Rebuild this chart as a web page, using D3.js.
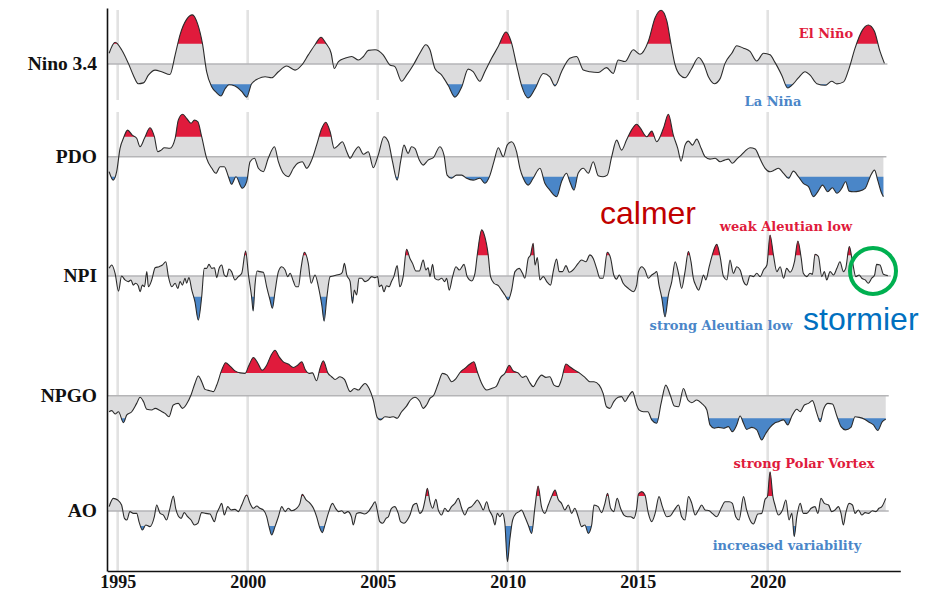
<!DOCTYPE html>
<html>
<head>
<meta charset="utf-8">
<script src="https://cdn.jsdelivr.net/npm/d3@7"></script>
<style>
  body { margin: 0; background: #fff; }
  svg { display: block; }
</style>
</head>
<body>
<svg id="chart" width="944" height="593"></svg>
<script>
(function () {

  'use strict';

  // Tick years on the bottom axis.
  const tickYears = [1995, 2000, 2005, 2010, 2015, 2020];

  // Series, [decimal year, index value]. Values are in units of the
  // highlight threshold (|v| > 1 gets the red / blue fill).
  const ninoData = [
    [1994.67, 0.53], [1994.90, 1.07], [1995.15, 0.70], [1995.41, 0.03], [1995.60, -0.55], [1995.79, -0.97],
    [1995.99, -0.93], [1996.18, -0.55], [1996.44, -0.30], [1996.69, -0.38], [1997.01, -0.52], [1997.21, 0.45],
    [1997.40, 1.45], [1997.65, 2.20], [1997.87, 2.42], [1998.08, 1.95], [1998.26, 1.00], [1998.42, -0.38],
    [1998.62, -1.13], [1998.81, -1.42], [1998.97, -1.58], [1999.13, -1.22], [1999.28, -1.02], [1999.51, -1.08],
    [1999.77, -1.35], [1999.96, -1.63], [2000.15, -0.97], [2000.41, -0.72], [2000.67, -0.63], [2000.92, -0.68],
    [2001.18, -0.38], [2001.50, -0.10], [2001.82, -0.30], [2002.08, -0.05], [2002.33, 0.45], [2002.59, 0.95],
    [2002.82, 1.32], [2003.00, 1.03], [2003.21, 0.53], [2003.33, -0.22], [2003.49, 0.12], [2003.74, 0.28],
    [2004.00, 0.37], [2004.26, 0.20], [2004.45, 0.37], [2004.64, 0.67], [2004.90, 0.70], [2005.21, 0.45],
    [2005.47, -0.05], [2005.66, -0.13], [2005.92, -0.85], [2006.11, -0.55], [2006.37, -0.05], [2006.62, 0.53],
    [2006.85, 0.95], [2007.01, 0.70], [2007.20, -0.22], [2007.46, -0.55], [2007.71, -1.05], [2007.97, -1.63],
    [2008.23, -1.13], [2008.48, -0.25], [2008.67, -0.38], [2008.93, -0.85], [2009.12, -0.38], [2009.38, 0.28],
    [2009.64, 0.87], [2009.93, 1.58], [2010.15, 1.03], [2010.34, -0.05], [2010.53, -1.05], [2010.79, -1.67],
    [2011.05, -1.22], [2011.37, -0.47], [2011.62, -0.63], [2011.82, -1.08], [2012.07, -0.38], [2012.39, 0.28],
    [2012.65, 0.37], [2012.91, -0.30], [2013.16, -0.38], [2013.48, -0.42], [2013.80, -0.18], [2014.06, -0.47],
    [2014.25, 0.20], [2014.51, 0.12], [2014.83, 0.70], [2015.09, 0.48], [2015.41, 1.12], [2015.67, 2.28],
    [2015.90, 2.65], [2016.12, 2.12], [2016.28, 0.98], [2016.44, -0.05], [2016.63, -0.55], [2016.82, -0.68],
    [2017.08, -0.22], [2017.34, 0.32], [2017.53, 0.03], [2017.72, -0.63], [2017.95, -0.97], [2018.17, -0.72],
    [2018.36, 0.03], [2018.62, 0.53], [2018.81, 0.90], [2019.07, 0.78], [2019.32, 0.62], [2019.58, 0.15],
    [2019.84, 0.53], [2020.09, 0.45], [2020.28, 0.08], [2020.54, -0.55], [2020.77, -1.18], [2020.99, -0.97],
    [2021.18, -0.68], [2021.44, -0.38], [2021.63, -0.55], [2021.89, -0.97], [2022.21, -1.05], [2022.46, -0.85],
    [2022.66, -0.98], [2022.92, -0.88], [2023.11, -0.30], [2023.36, 0.78], [2023.62, 1.62], [2023.87, 1.92],
    [2024.10, 1.62], [2024.32, 0.62], [2024.49, 0.03]
  ];

  const pdoData = [
    [1994.67, -0.75], [1994.83, -1.17], [1994.96, -0.75], [1995.09, 0.42], [1995.22, 0.92], [1995.38, 1.33],
    [1995.56, 1.08], [1995.73, 0.92], [1995.86, 0.50], [1996.03, 0.92], [1996.24, 1.45], [1996.41, 1.00],
    [1996.54, 0.25], [1996.67, 0.33], [1996.79, 0.45], [1997.01, 0.42], [1997.21, 0.92], [1997.33, 1.83],
    [1997.50, 2.12], [1997.65, 1.92], [1997.82, 1.67], [1997.95, 1.83], [1998.08, 1.75], [1998.23, 1.00],
    [1998.42, -0.08], [1998.62, -0.58], [1998.78, -0.83], [1998.94, -0.50], [1999.10, -0.50], [1999.26, -1.00],
    [1999.38, -1.38], [1999.55, -1.00], [1999.79, -1.58], [1999.96, -1.25], [2000.09, -0.25], [2000.26, -0.08],
    [2000.41, -0.58], [2000.60, -0.75], [2000.79, -0.08], [2001.03, 0.50], [2001.18, -0.25], [2001.37, -0.83],
    [2001.56, -1.00], [2001.76, -0.58], [2001.92, -0.33], [2002.10, -0.25], [2002.27, -0.58], [2002.46, -0.17],
    [2002.65, 0.58], [2002.85, 1.42], [2003.00, 1.72], [2003.17, 1.25], [2003.33, 0.42], [2003.49, 0.58],
    [2003.64, 0.75], [2003.81, 0.25], [2003.94, -0.08], [2004.10, 0.25], [2004.26, 0.50], [2004.45, 0.12],
    [2004.64, 0.25], [2004.83, -0.55], [2005.02, 0.08], [2005.24, 1.00], [2005.41, 0.75], [2005.57, -0.25],
    [2005.75, -1.17], [2005.88, -0.25], [2006.01, 0.58], [2006.17, 0.17], [2006.30, 0.50], [2006.43, 0.42],
    [2006.60, -0.17], [2006.75, -0.42], [2006.94, -0.17], [2007.14, -0.05], [2007.39, 0.50], [2007.55, 0.08],
    [2007.67, -0.92], [2007.84, -1.08], [2008.03, -0.92], [2008.23, -0.92], [2008.42, -1.08], [2008.67, -1.17],
    [2008.93, -1.08], [2009.12, -1.33], [2009.32, -0.92], [2009.47, -0.25], [2009.64, 0.45], [2009.83, 0.00],
    [2009.98, 0.58], [2010.15, 0.75], [2010.34, 0.25], [2010.47, -0.58], [2010.60, -1.08], [2010.79, -1.42],
    [2010.98, -1.08], [2011.24, -0.58], [2011.43, -1.33], [2011.62, -1.67], [2011.88, -2.00], [2012.07, -1.25],
    [2012.26, -0.83], [2012.39, -1.25], [2012.55, -1.67], [2012.71, -0.83], [2012.91, -0.58], [2013.10, -0.83],
    [2013.29, -0.25], [2013.48, -0.95], [2013.67, -1.00], [2013.83, -0.92], [2014.00, 0.00], [2014.19, 0.83],
    [2014.38, 0.33], [2014.57, 0.83], [2014.76, 1.33], [2014.96, 1.62], [2015.09, 1.45], [2015.35, 1.00],
    [2015.54, 1.28], [2015.73, 0.75], [2015.99, 1.42], [2016.18, 2.12], [2016.37, 1.08], [2016.54, 0.42],
    [2016.67, -0.22], [2016.82, 0.58], [2016.95, 0.78], [2017.11, 0.58], [2017.27, 0.88], [2017.44, 0.42],
    [2017.59, 0.00], [2017.78, -0.12], [2017.98, -0.08], [2018.17, -0.25], [2018.34, -0.17], [2018.49, -0.12],
    [2018.64, -0.33], [2018.81, -0.12], [2018.98, 0.08], [2019.13, 0.28], [2019.32, 0.45], [2019.52, 0.38],
    [2019.71, -0.12], [2019.90, -0.58], [2020.09, -0.75], [2020.26, -0.67], [2020.41, -0.58], [2020.61, -0.83],
    [2020.80, -1.08], [2020.99, -0.72], [2021.18, -1.00], [2021.37, -1.33], [2021.57, -1.50], [2021.76, -2.00],
    [2021.93, -1.75], [2022.11, -1.42], [2022.31, -1.75], [2022.49, -1.55], [2022.66, -1.83], [2022.85, -1.58],
    [2023.00, -1.25], [2023.13, -1.72], [2023.30, -1.75], [2023.52, -1.72], [2023.75, -1.58], [2023.94, -1.00],
    [2024.11, -0.67], [2024.23, -1.17], [2024.36, -1.75], [2024.45, -2.00]
  ];

  const npiData = [
    [1994.67, 0.37], [1994.77, 0.53], [1994.90, 0.13], [1995.03, -0.73], [1995.15, 0.00], [1995.28, -0.19],
    [1995.41, -0.27], [1995.51, -0.19], [1995.60, -0.44], [1995.69, -0.35], [1995.79, -0.47], [1995.86, -0.76],
    [1995.95, -0.44], [1996.03, -0.52], [1996.12, 0.21], [1996.18, -0.52], [1996.31, -0.19], [1996.44, 0.40],
    [1996.59, 0.45], [1996.72, 0.53], [1996.85, 0.69], [1996.95, -0.03], [1997.08, -0.52], [1997.21, -0.35],
    [1997.31, -0.60], [1997.40, -0.27], [1997.49, -0.44], [1997.59, -0.11], [1997.65, -0.35], [1997.74, -0.08],
    [1997.85, -0.68], [1997.97, -1.24], [1998.10, -2.13], [1998.23, -1.00], [1998.33, 0.37], [1998.42, 0.37],
    [1998.51, 0.56], [1998.62, 0.37], [1998.72, 0.40], [1998.81, -0.08], [1998.90, 0.37], [1999.00, 0.53],
    [1999.10, 0.05], [1999.19, -0.03], [1999.28, 0.34], [1999.38, 0.21], [1999.51, -0.19], [1999.64, -0.03],
    [1999.77, 0.13], [1999.92, 1.21], [2000.03, 0.05], [2000.15, -1.00], [2000.21, -1.69], [2000.28, -0.44],
    [2000.36, 0.24], [2000.47, 0.21], [2000.60, 0.18], [2000.73, -0.52], [2000.86, -1.16], [2000.95, -1.56],
    [2001.05, -0.76], [2001.18, 0.21], [2001.31, 0.45], [2001.44, 0.29], [2001.54, -0.03], [2001.63, 0.13],
    [2001.76, -0.27], [2001.85, -0.52], [2001.95, -0.52], [2002.05, 0.37], [2002.18, 1.15], [2002.33, 0.61],
    [2002.44, -0.35], [2002.59, 0.05], [2002.72, -0.52], [2002.85, -1.40], [2002.94, -2.18], [2003.04, -1.08],
    [2003.17, -0.03], [2003.29, 0.00], [2003.42, 0.05], [2003.55, 0.08], [2003.64, 0.18], [2003.72, 0.61],
    [2003.81, 0.05], [2003.94, -0.27], [2004.03, -1.32], [2004.10, -0.68], [2004.19, -0.92], [2004.28, -0.11],
    [2004.38, -0.11], [2004.51, -0.27], [2004.64, -0.19], [2004.77, -0.03], [2004.90, -0.08], [2005.00, -0.03],
    [2005.06, -0.52], [2005.15, -0.44], [2005.24, -0.76], [2005.34, -0.47], [2005.44, -0.52], [2005.53, -0.27],
    [2005.62, -0.03], [2005.75, 0.50], [2005.85, -0.52], [2005.98, -0.03], [2006.11, 1.29], [2006.24, 0.85],
    [2006.34, 0.61], [2006.47, 0.24], [2006.60, 0.24], [2006.75, 0.77], [2006.85, 0.29], [2006.94, 0.40],
    [2007.01, -0.03], [2007.11, 0.56], [2007.20, -0.11], [2007.33, -0.19], [2007.46, -0.11], [2007.58, -0.27],
    [2007.65, -0.11], [2007.75, -0.68], [2007.88, -0.03], [2008.01, 0.45], [2008.14, 0.29], [2008.32, 0.56],
    [2008.44, -0.03], [2008.61, -0.24], [2008.74, 0.13], [2008.83, 1.02], [2009.00, 2.23], [2009.12, 1.90],
    [2009.25, 1.02], [2009.34, -0.03], [2009.47, -0.35], [2009.64, -0.47], [2009.76, -0.68], [2009.89, -0.92],
    [2010.02, -1.16], [2010.15, -0.68], [2010.28, 0.21], [2010.44, 0.37], [2010.57, 0.13], [2010.66, -0.11],
    [2010.79, 0.85], [2010.88, 1.02], [2010.98, 1.58], [2011.05, 0.53], [2011.14, 0.89], [2011.24, -0.19],
    [2011.37, -0.03], [2011.50, -0.27], [2011.65, -0.44], [2011.75, 0.21], [2011.88, 0.82], [2011.98, 0.21],
    [2012.11, 0.21], [2012.24, 0.50], [2012.37, 0.18], [2012.55, 0.34], [2012.71, 0.61], [2012.84, 0.77],
    [2013.01, 0.69], [2013.16, 1.02], [2013.29, 0.85], [2013.42, 0.37], [2013.55, -0.11], [2013.67, -0.11],
    [2013.83, 1.15], [2013.96, 0.85], [2014.08, 0.05], [2014.19, -0.15], [2014.29, 0.05], [2014.44, -0.35],
    [2014.64, -0.60], [2014.83, -0.76], [2014.96, -0.44], [2015.03, 0.21], [2015.16, 0.45], [2015.28, 0.29],
    [2015.41, -0.11], [2015.54, 0.05], [2015.64, 0.13], [2015.73, 0.21], [2015.82, -0.44], [2015.93, -1.08],
    [2016.05, -1.97], [2016.18, -0.92], [2016.31, -0.27], [2016.44, 0.69], [2016.57, 0.13], [2016.69, -0.60],
    [2016.82, 0.21], [2016.95, 1.18], [2017.05, 0.69], [2017.14, -0.11], [2017.23, -0.44], [2017.34, -0.68],
    [2017.44, -0.35], [2017.53, 0.05], [2017.62, -0.19], [2017.75, 0.45], [2017.87, 1.02], [2018.04, 1.53],
    [2018.17, 0.94], [2018.30, -0.03], [2018.43, -0.19], [2018.55, 0.77], [2018.68, 0.13], [2018.81, 0.45],
    [2018.94, 0.29], [2019.07, -0.27], [2019.19, -0.44], [2019.32, 0.02], [2019.45, -0.03], [2019.58, 0.13],
    [2019.71, -0.03], [2019.84, 0.29], [2019.97, 0.53], [2020.09, 1.98], [2020.22, 1.02], [2020.35, 0.21],
    [2020.48, 0.45], [2020.61, -0.11], [2020.73, 0.37], [2020.86, 0.18], [2021.03, 0.69], [2021.16, 1.69],
    [2021.29, 0.85], [2021.37, 0.13], [2021.50, -0.03], [2021.63, 0.13], [2021.72, 0.08], [2021.82, 1.05],
    [2021.95, 0.94], [2022.08, -0.03], [2022.18, 0.21], [2022.27, -0.19], [2022.40, 0.21], [2022.53, 0.05],
    [2022.66, 0.37], [2022.78, 0.69], [2022.91, 0.21], [2023.00, 0.37], [2023.14, 1.42], [2023.26, 0.69],
    [2023.39, -0.03], [2023.52, 0.05], [2023.62, -0.11], [2023.75, -0.19], [2023.87, -0.35], [2024.00, -0.11],
    [2024.11, 0.05], [2024.19, 0.56], [2024.32, 0.53], [2024.45, 0.08], [2024.62, 0.02]
  ];

  const npgoData = [
    [1994.67, -0.71], [1994.77, -0.66], [1994.90, -0.81], [1995.03, -0.71], [1995.22, -1.19], [1995.35, -0.85],
    [1995.54, -0.71], [1995.73, -0.34], [1995.86, -0.07], [1995.99, -0.26], [1996.12, -0.60], [1996.31, -0.63],
    [1996.44, -0.56], [1996.63, -0.66], [1996.82, -0.78], [1996.97, -0.93], [1997.14, -0.41], [1997.33, -0.34],
    [1997.49, -0.56], [1997.65, -0.37], [1997.82, 0.03], [1997.97, 0.54], [1998.10, 0.87], [1998.23, 0.62],
    [1998.36, 0.28], [1998.55, 0.22], [1998.68, 0.18], [1998.81, 0.47], [1999.00, 1.13], [1999.15, 1.46],
    [1999.32, 1.31], [1999.51, 1.10], [1999.71, 1.01], [1999.90, 0.99], [2000.05, 1.35], [2000.22, 1.69],
    [2000.38, 1.46], [2000.56, 1.13], [2000.73, 1.35], [2000.90, 1.79], [2001.05, 2.01], [2001.21, 1.72],
    [2001.37, 1.50], [2001.56, 1.40], [2001.76, 1.25], [2001.92, 1.35], [2002.08, 1.50], [2002.21, 1.16],
    [2002.36, 0.99], [2002.49, 1.01], [2002.65, 0.66], [2002.78, 1.21], [2002.91, 1.54], [2003.08, 1.01],
    [2003.23, 0.84], [2003.36, 0.72], [2003.55, 0.84], [2003.72, 0.72], [2003.94, 0.18], [2004.10, 0.32],
    [2004.26, 0.25], [2004.38, 0.40], [2004.51, 0.54], [2004.67, 0.32], [2004.83, -0.19], [2004.98, -0.96],
    [2005.11, -1.07], [2005.28, -0.93], [2005.47, -0.96], [2005.60, -0.93], [2005.75, -1.00], [2005.92, -0.71],
    [2006.11, -0.46], [2006.26, -0.19], [2006.43, -0.07], [2006.62, -0.26], [2006.75, -0.56], [2006.88, -0.41],
    [2007.01, -0.12], [2007.16, 0.03], [2007.33, 0.54], [2007.49, 0.99], [2007.67, 0.91], [2007.84, 0.62],
    [2008.01, 0.76], [2008.19, 1.06], [2008.35, 1.21], [2008.55, 1.40], [2008.70, 1.50], [2008.83, 1.06],
    [2009.00, 0.54], [2009.19, 0.25], [2009.38, 0.32], [2009.55, 0.40], [2009.73, 0.81], [2009.89, 0.99],
    [2010.06, 1.35], [2010.21, 1.10], [2010.40, 1.01], [2010.57, 0.81], [2010.70, 0.87], [2010.83, 0.62],
    [2010.98, 0.40], [2011.14, 0.69], [2011.30, 0.91], [2011.47, 0.81], [2011.62, 0.84], [2011.78, 0.47],
    [2011.94, 0.40], [2012.07, 0.72], [2012.24, 1.40], [2012.39, 1.28], [2012.58, 1.13], [2012.78, 0.99],
    [2012.97, 0.81], [2013.16, 0.62], [2013.32, 0.62], [2013.52, 0.47], [2013.67, 0.10], [2013.80, -0.49],
    [2013.93, -0.56], [2014.08, -0.26], [2014.25, -0.07], [2014.38, -0.04], [2014.51, -0.26], [2014.64, -0.04],
    [2014.80, 0.18], [2014.96, -0.41], [2015.05, -0.63], [2015.22, -0.71], [2015.39, -0.71], [2015.54, -1.07],
    [2015.73, -1.22], [2015.90, -0.34], [2016.08, 0.47], [2016.25, 0.03], [2016.41, -0.46], [2016.57, -0.49],
    [2016.76, 0.32], [2016.93, -0.19], [2017.08, -0.31], [2017.27, -0.19], [2017.46, -0.34], [2017.66, -0.63],
    [2017.78, -1.29], [2017.95, -1.44], [2018.10, -1.40], [2018.30, -1.44], [2018.49, -1.37], [2018.64, -1.59],
    [2018.81, -1.29], [2018.94, -0.90], [2019.07, -1.22], [2019.19, -1.49], [2019.39, -1.40], [2019.58, -1.51],
    [2019.77, -1.96], [2019.93, -1.66], [2020.09, -1.40], [2020.26, -1.22], [2020.41, -1.15], [2020.61, -1.07],
    [2020.77, -1.29], [2020.93, -0.90], [2021.12, -0.60], [2021.25, -0.71], [2021.41, -0.41], [2021.57, -0.34],
    [2021.72, -0.22], [2021.89, -0.78], [2022.02, -1.15], [2022.14, -0.63], [2022.31, -0.34], [2022.49, -0.37],
    [2022.66, -0.90], [2022.82, -1.37], [2022.99, -1.51], [2023.20, -1.40], [2023.36, -0.93], [2023.52, -0.96],
    [2023.72, -1.04], [2023.87, -1.15], [2024.07, -1.29], [2024.23, -1.54], [2024.41, -1.15], [2024.54, -1.04]
  ];

  const aoData = [
    [1994.67, 0.29], [1994.83, 0.84], [1995.00, 0.73], [1995.15, 0.40], [1995.26, -0.49], [1995.35, -0.60],
    [1995.47, -0.04], [1995.60, -0.16], [1995.73, -0.16], [1995.83, -0.78], [1995.95, -1.27], [1996.08, -0.93],
    [1996.24, -1.04], [1996.41, -0.38], [1996.50, 0.40], [1996.63, -0.16], [1996.76, -0.27], [1996.88, -0.60],
    [1997.01, 0.18], [1997.14, 1.00], [1997.23, 0.18], [1997.33, -0.33], [1997.44, -0.49], [1997.56, -0.11],
    [1997.69, -0.38], [1997.82, -0.60], [1997.95, -0.93], [1998.08, -0.82], [1998.23, -0.11], [1998.38, -0.16],
    [1998.55, -0.20], [1998.72, -0.71], [1998.81, -0.16], [1998.90, 0.18], [1999.00, 0.51], [1999.10, -0.27],
    [1999.23, 0.29], [1999.36, 0.07], [1999.51, 0.11], [1999.64, -0.04], [1999.77, 0.40], [1999.96, 1.07],
    [2000.09, 0.51], [2000.22, 0.18], [2000.35, 0.33], [2000.47, 0.18], [2000.60, 0.07], [2000.73, -0.38],
    [2000.82, -1.04], [2000.92, -1.60], [2001.05, -1.04], [2001.18, -0.38], [2001.31, 0.29], [2001.44, -0.04],
    [2001.56, 0.18], [2001.69, 0.02], [2001.88, 0.18], [2002.01, 0.51], [2002.10, 1.11], [2002.23, 0.78],
    [2002.40, 0.51], [2002.53, 0.18], [2002.65, -0.38], [2002.78, -1.16], [2002.87, -1.44], [2002.97, -0.93],
    [2003.10, -0.16], [2003.26, 0.51], [2003.38, 0.18], [2003.49, -0.04], [2003.62, 0.02], [2003.72, -0.16],
    [2003.85, -0.04], [2003.99, -0.38], [2004.06, -0.93], [2004.19, -0.16], [2004.32, -0.11], [2004.49, -0.20],
    [2004.64, -0.04], [2004.77, 0.29], [2004.90, 0.62], [2004.98, 0.07], [2005.08, -0.71], [2005.19, -0.82],
    [2005.32, -0.49], [2005.41, -0.38], [2005.53, 0.18], [2005.66, 0.29], [2005.79, -0.16], [2005.88, -0.71],
    [2006.01, -0.82], [2006.14, -0.60], [2006.24, -0.27], [2006.37, 0.40], [2006.49, 0.51], [2006.62, -0.16],
    [2006.73, 0.07], [2006.82, 0.73], [2006.91, 1.51], [2007.01, 0.62], [2007.11, 0.18], [2007.24, 0.78],
    [2007.33, 0.07], [2007.46, -0.27], [2007.58, 0.18], [2007.71, -0.04], [2007.84, 0.29], [2007.97, 0.51],
    [2008.10, 0.84], [2008.23, 0.18], [2008.35, -0.27], [2008.48, 0.18], [2008.61, 0.29], [2008.74, 0.56],
    [2008.83, 0.73], [2008.96, 0.40], [2009.06, 0.07], [2009.19, 0.62], [2009.29, 0.07], [2009.42, -0.38],
    [2009.51, -0.93], [2009.60, -0.16], [2009.70, -0.38], [2009.80, -0.16], [2009.89, -0.82], [2009.99, -3.38],
    [2010.08, -1.93], [2010.19, -0.60], [2010.32, -0.16], [2010.44, -0.04], [2010.53, 0.07], [2010.66, -0.38],
    [2010.79, -0.93], [2010.92, -1.49], [2011.05, 0.29], [2011.17, 1.67], [2011.30, 0.29], [2011.43, -0.16],
    [2011.56, 0.40], [2011.69, 0.96], [2011.82, 1.40], [2011.94, 0.78], [2012.07, 0.51], [2012.20, 0.07],
    [2012.33, 0.40], [2012.46, -0.16], [2012.58, 0.18], [2012.71, -0.38], [2012.84, -1.04], [2012.97, -0.93],
    [2013.10, -1.49], [2013.23, -0.93], [2013.32, 0.40], [2013.48, 0.29], [2013.61, -0.11], [2013.74, 0.51],
    [2013.84, 1.18], [2013.96, 0.18], [2014.08, -0.04], [2014.21, 0.84], [2014.34, 0.18], [2014.47, -0.27],
    [2014.60, -0.38], [2014.73, -0.38], [2014.85, -0.49], [2014.96, 0.18], [2015.03, 1.13], [2015.16, 1.29],
    [2015.28, 1.07], [2015.41, -0.16], [2015.54, -0.71], [2015.67, -0.16], [2015.82, 0.96], [2015.95, 0.29],
    [2016.12, -0.38], [2016.25, -0.33], [2016.41, 0.07], [2016.57, 0.40], [2016.69, -0.38], [2016.82, -0.60],
    [2016.95, 0.96], [2017.08, 0.51], [2017.21, -0.27], [2017.34, 0.07], [2017.46, 0.40], [2017.59, 0.07],
    [2017.75, 0.02], [2017.87, -0.16], [2018.04, -0.38], [2018.21, 0.18], [2018.36, 0.62], [2018.52, 0.62],
    [2018.64, 0.51], [2018.77, -0.38], [2018.90, -0.60], [2019.07, 0.96], [2019.19, 0.07], [2019.32, -0.60],
    [2019.45, -0.87], [2019.62, -0.20], [2019.77, -0.16], [2019.90, 0.78], [2019.99, 0.96], [2020.09, 2.62],
    [2020.20, 0.96], [2020.28, 0.40], [2020.41, -0.27], [2020.57, 0.07], [2020.70, 0.73], [2020.82, -0.60],
    [2020.93, -0.16], [2021.02, -1.71], [2021.12, -0.38], [2021.25, 0.51], [2021.37, -0.16], [2021.50, -0.16],
    [2021.67, 0.18], [2021.82, 0.29], [2021.93, -0.16], [2022.05, 0.84], [2022.18, 0.51], [2022.34, 0.40],
    [2022.46, -0.04], [2022.59, 0.07], [2022.72, 0.29], [2022.82, -0.16], [2022.91, -0.93], [2023.00, -0.16],
    [2023.13, 0.51], [2023.26, 0.40], [2023.36, -0.16], [2023.49, 0.07], [2023.62, -0.27], [2023.75, -0.11],
    [2023.87, -0.16], [2024.03, 0.02], [2024.16, -0.04], [2024.28, 0.18], [2024.39, 0.29], [2024.54, 0.84]
  ];

  const SERIF = 'DejaVu Serif, Liberation Serif, serif';
  const SERIF_LABEL = 'Liberation Serif, DejaVu Serif, serif';
  const SANS = 'Liberation Sans, Arial, sans-serif';
  const RED = '#e01b3c';
  const BLUE = '#4a86c8';
  const GREY_FILL = '#dcdcdd';
  const AXIS_TOP = 8;
  const AXIS_BOTTOM = 571;

  // Baseline (px) and px per threshold unit for each strip.
  const panels = [
    {id: 'nino', label: 'Nino 3.4', data: ninoData, base: 64, unit: 20.3},
    {id: 'pdo', label: 'PDO', data: pdoData, base: 156.7, unit: 20},
    {id: 'npi', label: 'NPI', data: npiData, base: 276, unit: 20.7},
    {id: 'npgo', label: 'NPGO', data: npgoData, base: 395.7, unit: 22.6},
    {id: 'ao', label: 'AO', data: aoData, base: 511, unit: 15}
  ];

  const svg = d3.select('#chart')
    .style('font-family', SERIF);

  let x = d3.scaleLinear()
    .domain([1994.6, 2025.1])
    .range([107.3, 900.3]);

  // Year grid, broken under the first strip.
  let grid = svg.append('g').attr('class', 'grid');
  [[AXIS_TOP + 2, 100], [112, AXIS_BOTTOM]].forEach(function (seg) {
    grid.selectAll(null)
      .data(tickYears)
      .enter()
      .append('line')
      .attr('x1', d => x(d))
      .attr('x2', d => x(d))
      .attr('y1', seg[0])
      .attr('y2', seg[1])
      .style('stroke', '#e2e2e2')
      .style('stroke-width', 2.6);
  });

  let defs = svg.append('defs');

  panels.forEach(function (p) {
    let y = d3.scaleLinear()
      .domain([-1, 1])
      .range([p.base + p.unit, p.base - p.unit]);

    let last = p.data[p.data.length - 1][0];

    // Clip areas beyond the thresholds.
    defs.append('clipPath').attr('id', 'clip-hi-' + p.id)
      .append('rect')
      .attr('x', 0).attr('width', 944)
      .attr('y', 0).attr('height', y(1));
    defs.append('clipPath').attr('id', 'clip-lo-' + p.id)
      .append('rect')
      .attr('x', 0).attr('width', 944)
      .attr('y', y(-1)).attr('height', 593 - y(-1));

    let area = d3.area()
      .curve(d3.curveMonotoneX)
      .x(d => x(d[0]))
      .y0(y(0))
      .y1(d => y(d[1]));

    let line = d3.line()
      .curve(d3.curveMonotoneX)
      .x(d => x(d[0]))
      .y(d => y(d[1]));

    let g = svg.append('g').attr('class', 'panel ' + p.id);

    g.append('path')
      .datum(p.data)
      .attr('d', area)
      .style('fill', GREY_FILL);

    g.append('path')
      .datum(p.data)
      .attr('d', area)
      .attr('clip-path', 'url(#clip-hi-' + p.id + ')')
      .style('fill', RED);

    g.append('path')
      .datum(p.data)
      .attr('d', area)
      .attr('clip-path', 'url(#clip-lo-' + p.id + ')')
      .style('fill', BLUE);

    // Zero line.
    g.append('line')
      .attr('x1', x.range()[0])
      .attr('x2', x(last) + 3)
      .attr('y1', y(0))
      .attr('y2', y(0))
      .style('stroke', '#b5b5b7')
      .style('stroke-width', 1.6);

    g.append('path')
      .datum(p.data)
      .attr('d', line)
      .style('fill', 'none')
      .style('stroke', '#2b2b2b')
      .style('stroke-width', 1.1)
      .style('stroke-linejoin', 'round');

    svg.append('text')
      .attr('x', 97)
      .attr('y', y(0))
      .attr('dy', '0.3em')
      .attr('text-anchor', 'end')
      .style('font-family', SERIF_LABEL)
      .style('font-size', '19.5px')
      .style('font-weight', 'bold')
      .style('fill', '#111')
      .text(p.label);
  });

  // Axes.
  svg.append('g')
    .attr('transform', 'translate(0,' + AXIS_BOTTOM + ')')
    .call(d3.axisBottom(x)
      .tickValues(tickYears)
      .tickFormat(d3.format('d'))
      .tickSize(0)
      .tickSizeOuter(0)
      .tickPadding(4))
    .call(g => g.select('.domain').style('stroke', '#111').style('stroke-width', 1.6))
    .call(g => g.selectAll('text')
      .style('font-family', SERIF_LABEL)
      .style('font-weight', 'bold')
      .style('font-size', '18px')
      .style('fill', '#111'));

  svg.append('g')
    .attr('transform', 'translate(107,0)')
    .call(d3.axisLeft(d3.scaleLinear().range([AXIS_TOP, AXIS_BOTTOM]))
      .ticks(0)
      .tickSize(0)
      .tickSizeOuter(0))
    .call(g => g.select('.domain').style('stroke', '#111').style('stroke-width', 1.6));

  // Annotations.
  const notes = [
    {text: 'El Niño', x: 826, y: 33, color: RED},
    {text: 'La Niña', x: 773, y: 101, color: BLUE},
    {text: 'weak Aleutian low', x: 786, y: 226, color: RED},
    {text: 'strong Aleutian low', x: 721, y: 325, color: BLUE},
    {text: 'strong Polar Vortex', x: 804, y: 463, color: RED},
    {text: 'increased variability', x: 787, y: 545, color: BLUE}
  ];

  svg.append('g')
    .selectAll('text')
    .data(notes)
    .enter()
    .append('text')
    .attr('x', d => d.x)
    .attr('y', d => d.y)
    .attr('dy', '0.35em')
    .attr('text-anchor', 'middle')
    .style('font-family', SERIF)
    .style('font-weight', 'bold')
    .style('font-size', '13px')
    .style('fill', d => d.color)
    .text(d => d.text);

  svg.append('text')
    .attr('x', 600)
    .attr('y', 224)
    .style('font-family', SANS)
    .style('font-size', '32px')
    .style('fill', '#c00000')
    .text('calmer');

  svg.append('text')
    .attr('x', 803)
    .attr('y', 330)
    .style('font-family', SANS)
    .style('font-size', '32px')
    .style('fill', '#0070c0')
    .text('stormier');

  svg.append('ellipse')
    .attr('cx', 873)
    .attr('cy', 271)
    .attr('rx', 23)
    .attr('ry', 23)
    .style('fill', 'none')
    .style('stroke', '#00b050')
    .style('stroke-width', 4);

}());
</script>
</body>
</html>
